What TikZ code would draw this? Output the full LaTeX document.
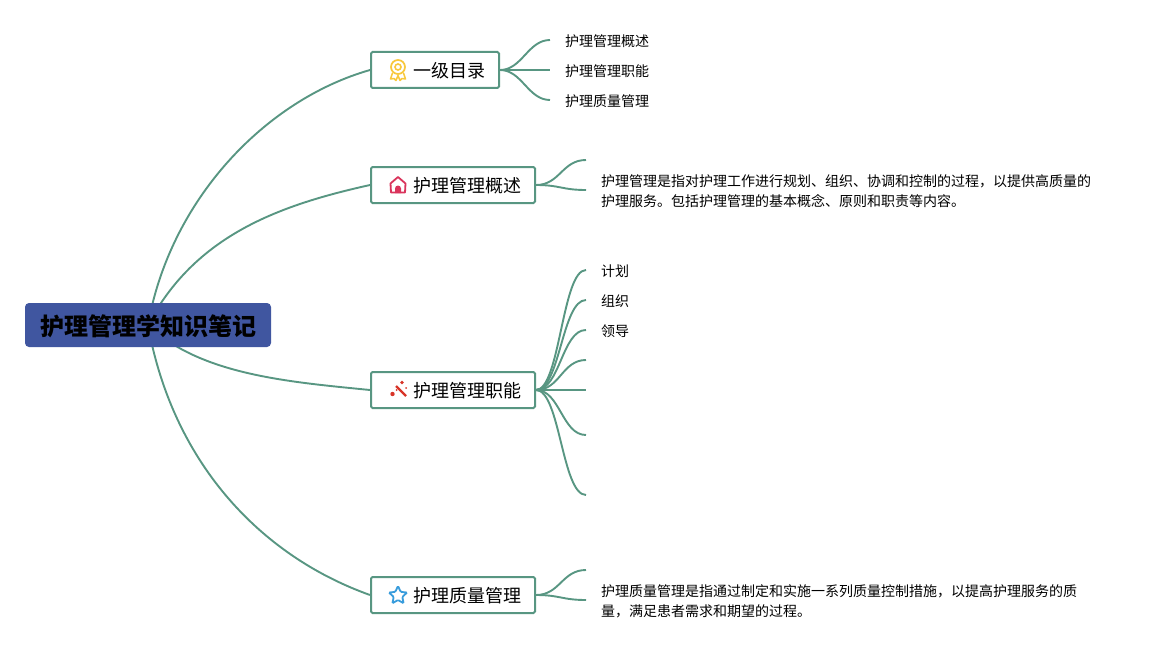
\documentclass[tikz,border=0pt]{standalone}
\usepackage{fontspec}
\setmainfont{Noto Sans CJK SC}
\usetikzlibrary{positioning,arrows.meta,backgrounds,calc,shapes.geometric}
\definecolor{branch}{RGB}{88,150,130}
\definecolor{rootblue}{RGB}{64,86,160}
\definecolor{medal}{RGB}{248,200,60}
\definecolor{house}{RGB}{218,52,92}
\definecolor{wand}{RGB}{216,52,40}
\definecolor{starblue}{RGB}{56,156,220}

\begin{document}
\begin{tikzpicture}[
  x=1pt, y=-1pt,
  root/.style={fill=rootblue, rounded corners=4pt, minimum width=246pt, minimum height=44pt,
               inner xsep=0pt, inner ysep=0pt, text height=21pt, text depth=1pt,
               font=\fontsize{24}{28}\selectfont\bfseries, text=black},
  topic/.style={draw=branch, fill=white, line width=2pt, rounded corners=1.5pt, anchor=west,
                minimum height=36pt, inner xsep=13.5pt, inner ysep=0pt, text height=16.6pt, text depth=1pt,
                font=\fontsize{18}{22}\selectfont},
  leaf/.style={anchor=west, inner xsep=15pt, inner ysep=0pt, align=left,
               font=\fontsize{14}{20}\selectfont},
  ln/.style={draw=branch, line width=1.9pt},
]
\useasboundingbox (0,0) rectangle (1161,650);

\node[root] (root) at (148,325) {护理管理学知识笔记};

\node[topic] (mulu) at (370,70)  {\hspace*{29pt}一级目录};
\node[topic] (gais) at (370,185) {\hspace*{29pt}护理管理概述};
\node[topic] (zhin) at (370,390) {\hspace*{29pt}护理管理职能};
\node[topic] (zhil) at (370,595) {\hspace*{29pt}护理质量管理};

\node[leaf] (m1) at (550,41)  {护理管理概述};
\node[leaf] (m2) at (550,71)  {护理管理职能};
\node[leaf] (m3) at (550,101) {护理质量管理};

\node[leaf] (g2) at (586,191.5) {护理管理是指对护理工作进行规划、组织、协调和控制的过程，以提供高质量的\\护理服务。包括护理管理的基本概念、原则和职责等内容。};
\node[leaf] (z1) at (586,271.5) {计划};
\node[leaf] (z2) at (586,301.5) {组织};
\node[leaf] (z3) at (586,331.5) {领导};
\node[leaf] (l2) at (586,601.5) {护理质量管理是指通过制定和实施一系列质量控制措施，以提高护理服务的质\\量，满足患者需求和期望的过程。};

\coordinate (g1) at (586,160);
\coordinate (g3) at ([yshift=1.5pt]g2.west);
\coordinate (l1) at (586,570);
\coordinate (l3) at ([yshift=1.5pt]l2.west);
\coordinate (z4) at (586,360);
\coordinate (z5) at (586,390);
\coordinate (z6) at (586,435);
\coordinate (z7) at (586,495);

\begin{scope}[on background layer]
\draw[ln] (root.center) .. controls (170,200) and (265,100) .. (mulu.west);
\draw[ln] (root.center) .. controls (195,235) and (280,205) .. (gais.west);
\draw[ln] (root.center) .. controls (200,375) and (290,382) .. (zhin.west);
\draw[ln] (root.center) .. controls (172,460) and (258,555) .. (zhil.west);
\end{scope}

\foreach \t in {m1,m2,m3}
  \draw[ln] (mulu.east) .. controls +(22,0) and +(-22,0) .. ([yshift=1pt]\t.west);
\foreach \t in {g1,g3}
  \draw[ln] (gais.east) .. controls +(24,0) and +(-24,0) .. (\t);
\foreach \t in {z1,z2,z3}
  \draw[ln] (zhin.east) .. controls +(24,0) and +(-24,0) .. ([yshift=1.5pt]\t.west);
\foreach \t in {z4,z5,z6,z7}
  \draw[ln] (zhin.east) .. controls +(24,0) and +(-24,0) .. (\t);
\foreach \t in {l1,l3}
  \draw[ln] (zhil.east) .. controls +(24,0) and +(-24,0) .. (\t);

% icons
\draw[medal, line width=1.5pt, line join=round] (392.5,73) -- (390.5,79) -- (394,78.5) -- (396,80.5) -- (398,75.5) -- (400,80.5) -- (402,78.5) -- (405.5,79) -- (403.5,73);
\draw[medal, fill=white, line width=1.7pt] (398,67) circle (7);
\draw[medal, line width=1.6pt] (398,67) circle (3);

\draw[house, line width=1.8pt, line join=round] (391,192.5) -- (390.5,183.5) -- (398,177) -- (405.5,183.5) -- (405,192.5) -- cycle;
\fill[house] (395,193) -- (395,188.5) arc (180:360:3) -- (401,193) -- cycle;

\draw[wand, line width=2.2pt] (396,386) -- (406,396);
\fill[wand] (392.5,394) circle (2.2);
\fill[wand] (402,382.5) circle (1.8);
\fill[wand] (406,388) circle (1);
\fill[wand] (396.5,390) circle (1);

\node[star, star points=5, star point ratio=2.1, draw=starblue, line width=1.8pt, fill=white,
      rounded corners=1pt, minimum size=19pt, inner sep=0pt] (xing) at (398,595.5) {};
\end{tikzpicture}
\end{document}
